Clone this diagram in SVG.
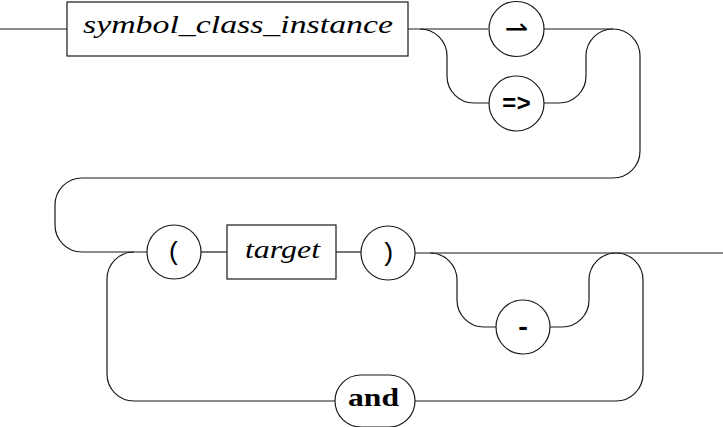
<svg xmlns="http://www.w3.org/2000/svg" width="723" height="427" viewBox="0 0 723 427">
<style>
.ln{fill:none;stroke:#1a1a1a;stroke-width:1.2}
.nd{fill:#fff;stroke:#1a1a1a;stroke-width:1.2}
</style>
<rect width="723" height="427" fill="#fff"/>
<g id="connectors" class="ln">
<path d="M0,29 H67"/>
<path d="M408,29 H488"/>
<path d="M420,29 A27,27 0 0 1 447,56 V76 A27,27 0 0 0 474,103 H489"/>
<path d="M544,29 H613 A27,27 0 0 1 640,56 V151 A27,27 0 0 1 613,178 H82 A27,27 0 0 0 55,205 V225 A27,27 0 0 0 82,252 H147"/>
<path d="M544,103 H559 A27,27 0 0 0 586,76 V56 A27,27 0 0 1 613,29"/>
<path d="M201,252 H227"/>
<path d="M336,252 H361"/>
<path d="M415,253 H723"/>
<path d="M430,253 A27,27 0 0 1 457,280 V300 A27,27 0 0 0 484,327 H496"/>
<path d="M550,327 H562 A27,27 0 0 0 589,300 V280 A27,27 0 0 1 616,253"/>
<path d="M616,253 A27,27 0 0 1 643,280 V374 A27,27 0 0 1 616,401 H415"/>
<path d="M335,401 H134 A27,27 0 0 1 107,374 V279 A27,27 0 0 1 134,252"/>
</g>
<g id="node-symbol_class_instance">
<rect class="nd" x="67" y="2" width="341" height="54"/>
<text font-family="Liberation Serif, DejaVu Serif, serif" font-style="italic" font-size="26" x="83" y="33" textLength="310" lengthAdjust="spacingAndGlyphs">symbol_class_instance</text>
</g>
<g id="node-harpoon">
<circle class="nd" cx="516.5" cy="29" r="27.5"/>
<text x="516.5" y="38" text-anchor="middle" font-family="DejaVu Sans, sans-serif" font-size="28">⇀</text>
</g>
<g id="node-implies">
<circle class="nd" cx="516.5" cy="103.5" r="27.5"/>
<text font-family="Liberation Mono, monospace" font-size="24" font-weight="bold" x="516.5" y="111" text-anchor="middle">=&gt;</text>
</g>
<g id="node-lparen">
<circle class="nd" cx="174" cy="252" r="27"/>
<text font-family="Liberation Mono, monospace" font-size="26" x="174" y="260" text-anchor="middle">(</text>
</g>
<g id="node-target">
<rect class="nd" x="227" y="225" width="109" height="54"/>
<text font-family="Liberation Serif, DejaVu Serif, serif" font-style="italic" font-size="26" x="245" y="258" textLength="75" lengthAdjust="spacingAndGlyphs">target</text>
</g>
<g id="node-rparen">
<circle class="nd" cx="388" cy="253" r="27"/>
<text font-family="Liberation Mono, monospace" font-size="26" x="388" y="261" text-anchor="middle">)</text>
</g>
<g id="node-dash">
<circle class="nd" cx="523" cy="327" r="27"/>
<text font-family="Liberation Mono, monospace" font-size="26" font-weight="bold" x="523" y="335" text-anchor="middle">-</text>
</g>
<g id="node-and">
<rect class="nd" x="335" y="375" width="80" height="52" rx="26" ry="26"/>
<text font-family="Liberation Serif, DejaVu Serif, serif" font-weight="bold" font-size="26" x="348" y="406" textLength="51" lengthAdjust="spacingAndGlyphs">and</text>
</g>
</svg>
